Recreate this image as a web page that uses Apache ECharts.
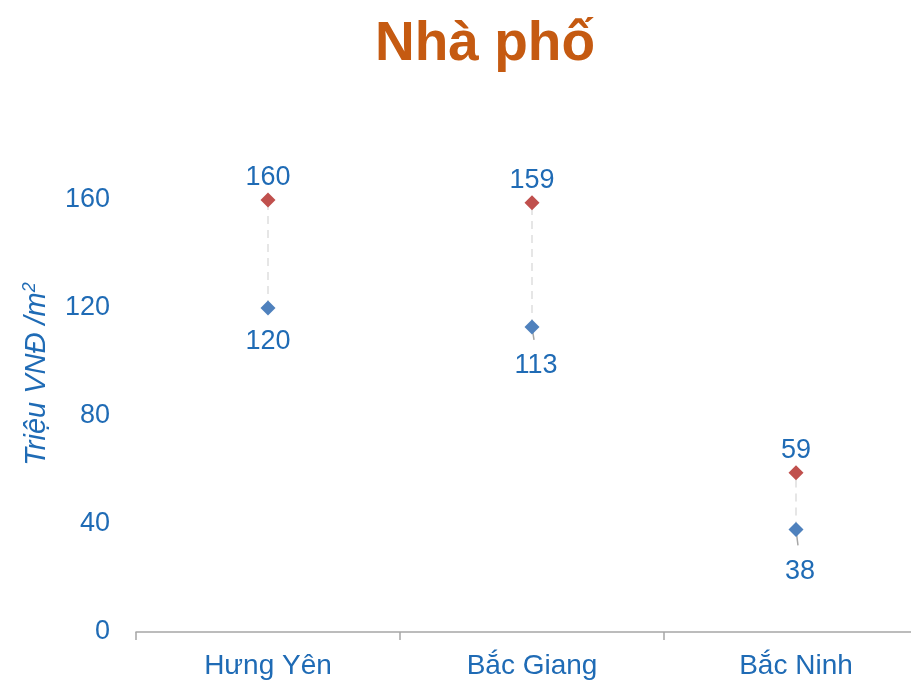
<!DOCTYPE html>
<html>
<head>
<meta charset="utf-8">
<script src="https://cdn.jsdelivr.net/npm/echarts@6/dist/echarts.min.js"></script>
<style>
  html, body { margin: 0; padding: 0; background: #fff; }
  #chart { width: 911px; height: 681px; }
</style>
</head>
<body>
<div id="chart"></div>
<script>
// Giá nhà phố theo tỉnh (triệu VNĐ/m2): mức thấp và mức cao
const categories = ['Hưng Yên', 'Bắc Giang', 'Bắc Ninh'];
const lowValues = [120, 113, 38];
const highValues = [160, 159, 59];
const yTicks = [0, 40, 80, 120, 160];

const BLUE_TEXT = '#1F6BB5';
const FONT = 'Liberation Sans, Arial, sans-serif';
// extra downward shift of the low-value labels (px), with a leader line when shifted
const lowLabelShift = [0, 5, 8];

const chart = echarts.init(document.getElementById('chart'));

chart.setOption({
  animation: false,
  title: {
    text: 'Nhà phố',
    left: 480,
    textAlign: 'center',
    top: 12,
    textStyle: { color: '#C55A11', fontSize: 55, fontWeight: 'bold', fontFamily: FONT }
  },
  grid: { left: 136, top: 92, width: 792, bottom: 49, outerBoundsMode: 'none', containLabel: false },
  xAxis: {
    type: 'category',
    data: categories,
    boundaryGap: true,
    axisLine: { lineStyle: { color: '#A6A6A6', width: 1.5 } },
    axisTick: { show: true, length: 8, lineStyle: { color: '#A6A6A6', width: 1.5 } },
    axisLabel: { color: BLUE_TEXT, fontSize: 28, fontFamily: FONT, margin: 20 }
  },
  yAxis: {
    type: 'value',
    min: 0,
    max: 200,
    interval: 40,
    axisLine: { show: false },
    axisTick: { show: false },
    splitLine: { show: false },
    axisLabel: {
      color: BLUE_TEXT, fontSize: 27, fontFamily: FONT, margin: 26,
      showMaxLabel: false,
      formatter: v => (yTicks.indexOf(v) >= 0 ? String(v) : '')
    },
    name: '{t|Triệu VNĐ /m}{s|2}',
    nameLocation: 'middle',
    nameGap: 84,
    nameRotate: 90,
    nameTextStyle: {
      padding: [0, 24, 0, 0],
      rich: {
        t: { color: BLUE_TEXT, fontSize: 29, fontStyle: 'italic', fontFamily: FONT },
        s: { color: BLUE_TEXT, fontSize: 18, fontStyle: 'italic', fontFamily: FONT, verticalAlign: 'top', padding: [0, 0, 13, 0] }
      }
    }
  },
  series: [
    {
      // dashed connector between the low and high value of each province
      type: 'custom',
      silent: true,
      z: 1,
      data: categories.map((c, i) => [i, lowValues[i], highValues[i]]),
      renderItem: function (params, api) {
        const a = api.coord([api.value(0), api.value(1)]);
        const b = api.coord([api.value(0), api.value(2)]);
        return {
          type: 'line',
          shape: { x1: a[0], y1: a[1], x2: b[0], y2: b[1] },
          style: { stroke: '#E6E6E6', lineWidth: 2, lineDash: [8, 6] }
        };
      }
    },
    {
      // leader lines from shifted low-value labels back to their markers
      type: 'custom',
      silent: true,
      z: 2,
      data: categories.map((c, i) => [i, lowValues[i], lowLabelShift[i]]),
      renderItem: function (params, api) {
        const shift = api.value(2);
        if (!shift) return null;
        const p = api.coord([api.value(0), api.value(1)]);
        return {
          type: 'line',
          shape: { x1: p[0], y1: p[1], x2: p[0] + 2, y2: p[1] + 8 + shift },
          style: { stroke: '#A6A6A6', lineWidth: 1.5 }
        };
      }
    },
    {
      name: 'Cao',
      type: 'scatter',
      symbol: 'diamond',
      symbolSize: 15,
      z: 3,
      itemStyle: { color: '#C0504D', opacity: 1 },
      label: {
        show: true, position: 'top', distance: 1,
        color: BLUE_TEXT, fontSize: 27, fontFamily: FONT
      },
      data: highValues
    },
    {
      name: 'Thấp',
      type: 'scatter',
      symbol: 'diamond',
      symbolSize: 15,
      z: 3,
      itemStyle: { color: '#4F81BD', opacity: 1 },
      label: {
        show: true, position: 'bottom', distance: 13,
        color: BLUE_TEXT, fontSize: 27, fontFamily: FONT
      },
      data: lowValues.map((v, i) => ({
        value: v,
        label: { distance: 13 + lowLabelShift[i], offset: [lowLabelShift[i] ? 4 : 0, 0] }
      }))
    }
  ]
});
</script>
</body>
</html>
